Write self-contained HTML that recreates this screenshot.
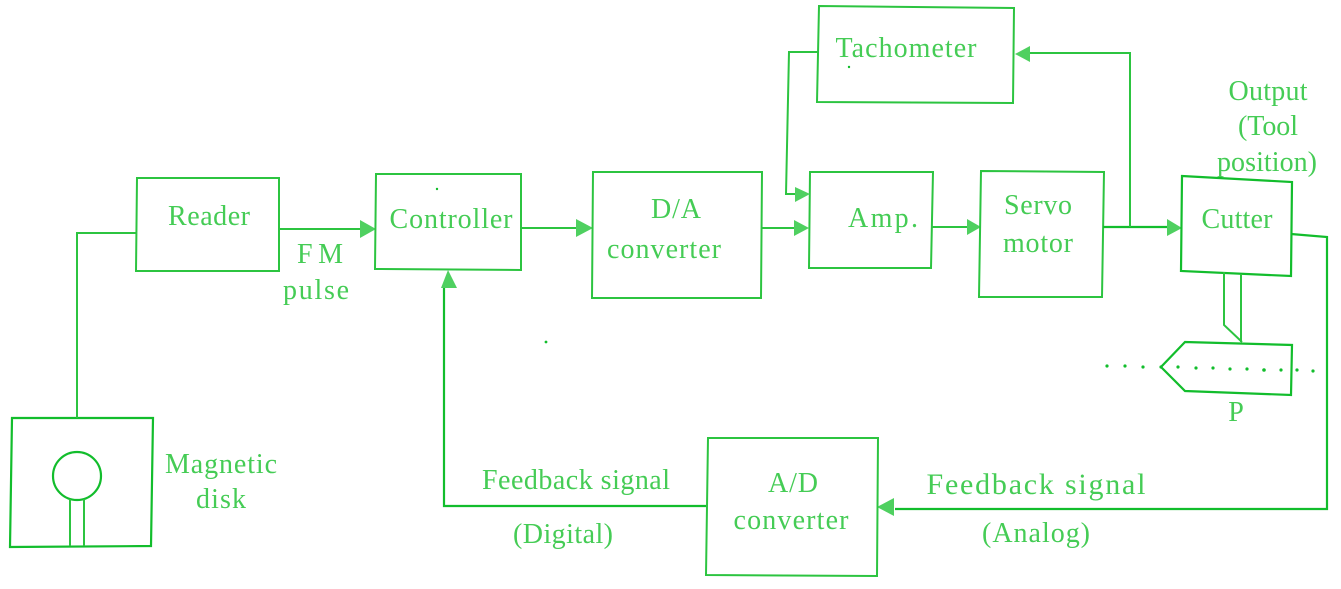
<!DOCTYPE html>
<html><head><meta charset="utf-8"><style>
html,body{margin:0;padding:0;background:#fff}
svg{display:block}
text{font-family:"Liberation Serif",serif;fill:#45cc55;text-anchor:middle;font-size:28px}
.l{fill:none;stroke:#2cc440;stroke-width:2}
.d{fill:none;stroke:#12bd2c;stroke-width:2.2}
.a{fill:#4fd060;stroke:none}
</style></head><body>
<svg width="1341" height="589" viewBox="0 0 1341 589" xmlns="http://www.w3.org/2000/svg">
<rect width="1341" height="589" fill="#fff"/>
<!-- Disk -->
<path class="d" d="M12 418L153 418L151 546L10 547Z"/>
<circle class="d" cx="77" cy="476" r="24"/>
<path class="l" d="M70 499V546M84 499V546"/>
<path class="l" d="M77 418V233H136"/>
<!-- Reader -->
<path class="l" d="M137 178L279 178L279 271L136 271Z"/>
<path class="l" d="M279 229H362"/>
<path class="a" d="M360 220L376 229L360 238Z"/>
<!-- Controller -->
<path class="l" d="M376 174L521 174L521 270L375 269Z"/>
<path class="l" d="M521 228H580"/>
<path class="a" d="M576 219L593 228L576 237Z"/>
<!-- D/A -->
<path class="l" d="M593 172L762 172L761 298L592 298Z"/>
<path class="l" d="M762 228H796"/>
<path class="a" d="M794 220L809 228L794 236Z"/>
<!-- Amp -->
<path class="l" d="M810 172L933 172L931 268L809 268Z"/>
<path class="l" d="M932 227H968"/>
<path class="a" d="M967 219L981 227L967 235Z"/>
<!-- Servo -->
<path class="l" d="M981 171L1104 172L1102 297L979 297Z"/>
<path class="d" d="M1103 227H1170"/>
<path class="a" d="M1167 219L1182 228L1167 236Z"/>
<path class="l" d="M1130 227V53H1030"/>
<path class="a" d="M1015 54L1030 46L1030 62Z"/>
<!-- Tachometer -->
<path class="l" d="M819 6L1014 8L1013 103L817 102Z"/>
<path class="l" d="M819 52H789L786 194H797"/>
<path class="a" d="M795 187L810 194L795 202Z"/>
<!-- Cutter -->
<path class="d" d="M1182 176L1292 182L1291 276L1181 271Z"/>
<path class="d" d="M1291 234L1327 237V509H895"/>
<path class="a" d="M877 507L894 498L894 516Z"/>
<path class="l" d="M1224 272V325L1242 342M1241 274V342"/>
<!-- Tool -->
<path class="d" d="M1185 342L1292 345L1291 395L1185 391L1161 367Z"/>
<g fill="#12bd2c">
<circle cx="1107" cy="366" r="1.6"/><circle cx="1125" cy="366" r="1.6"/><circle cx="1143" cy="367" r="1.6"/><circle cx="1161" cy="367" r="1.6"/><circle cx="1178" cy="367" r="1.6"/><circle cx="1196" cy="368" r="1.6"/><circle cx="1213" cy="368" r="1.6"/><circle cx="1230" cy="369" r="1.6"/><circle cx="1247" cy="369" r="1.6"/><circle cx="1264" cy="370" r="1.8"/><circle cx="1281" cy="370" r="1.6"/><circle cx="1297" cy="370" r="1.6"/><circle cx="1313" cy="371" r="1.6"/>
<circle cx="546" cy="342" r="1.4"/><circle cx="437" cy="189" r="1.2"/><circle cx="849" cy="67" r="1.2"/>
</g>
<!-- Text -->
<text x="209" y="225" textLength="82">Reader</text>
<text x="320" y="263" textLength="46">FM</text>
<text x="316" y="299" textLength="66">pulse</text>
<text x="451" y="228" textLength="123">Controller</text>
<text x="676" y="218" textLength="50">D/A</text>
<text x="664" y="258" textLength="114">converter</text>
<text x="883" y="227" textLength="70">Amp.</text>
<text x="1038" y="214" textLength="68">Servo</text>
<text x="1038" y="252" textLength="70">motor</text>
<text x="906" y="57" textLength="141">Tachometer</text>
<text x="1237" y="228" textLength="71">Cutter</text>
<text x="1268" y="100" textLength="79">Output</text>
<text x="1268" y="135" textLength="60">(Tool</text>
<text x="1267" y="171" textLength="100">position)</text>
<text x="1236" y="421">P</text>
<text x="221" y="473" textLength="112">Magnetic</text>
<text x="221" y="508" textLength="50">disk</text>
<text x="576" y="489" textLength="188">Feedback signal</text>
<text x="563" y="543" textLength="100">(Digital)</text>
<text x="793" y="492" textLength="50">A/D</text>
<text x="791" y="529" textLength="115">converter</text>
<text x="1036" y="494" textLength="219" style="font-size:30px">Feedback signal</text>
<text x="1036" y="542" textLength="108">(Analog)</text>
<!-- A/D -->
<path class="l" d="M708 438L878 438L877 576L706 575Z"/>
<path class="d" d="M706 506H444V288"/>
<path class="a" d="M448 270L457 288L441 288Z"/>
</svg>
</body></html>
